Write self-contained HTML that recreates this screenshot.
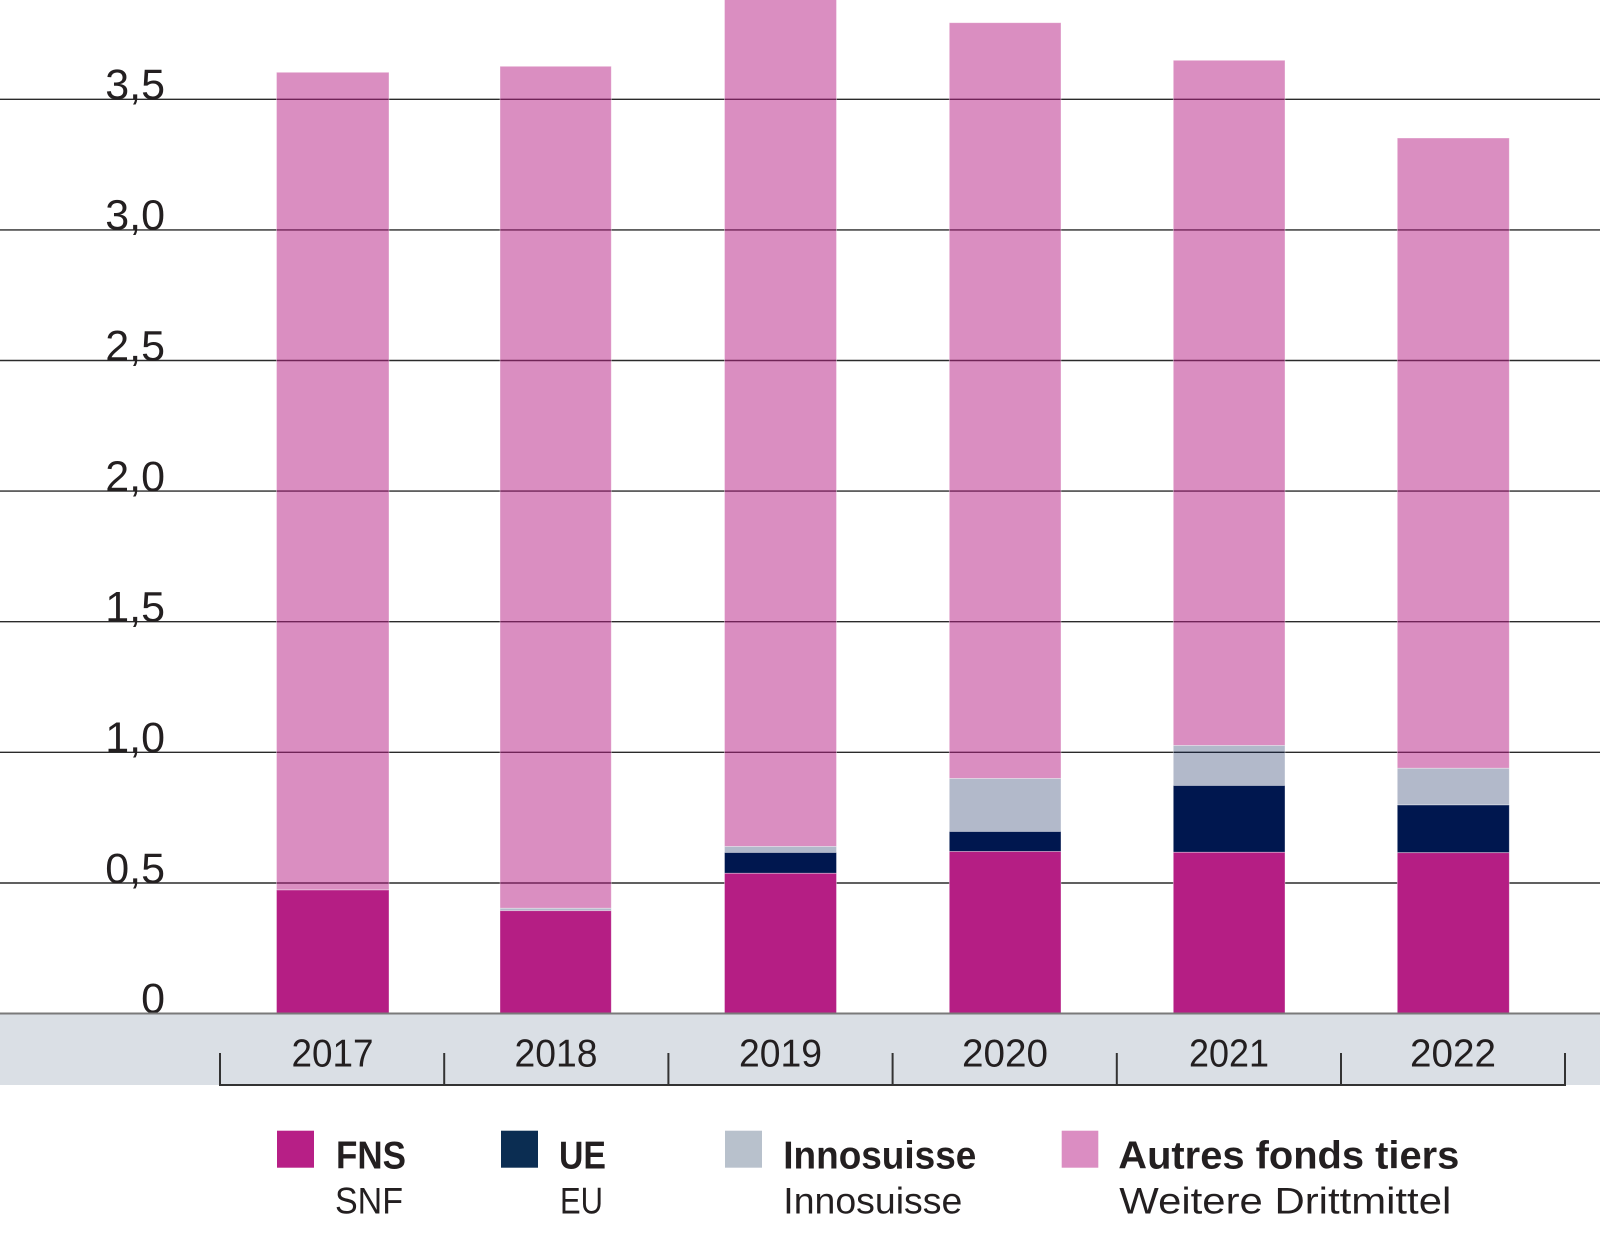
<!DOCTYPE html>
<html>
<head>
<meta charset="utf-8">
<style>
html,body{margin:0;padding:0;background:#fff;}
svg{display:block;}
text{font-family:"Liberation Sans",sans-serif;fill:#231f20;}
</style>
</head>
<body>
<svg width="1600" height="1234" viewBox="0 0 1600 1234" xmlns="http://www.w3.org/2000/svg">
  <rect x="0" y="0" width="1600" height="1234" fill="#ffffff"/>

  <!-- gridlines -->
  <g stroke="#2b2b2b" stroke-width="1.4">
    <line x1="0" y1="883" x2="1600" y2="883"/>
    <line x1="0" y1="752.3" x2="1600" y2="752.3"/>
    <line x1="0" y1="621.7" x2="1600" y2="621.7"/>
    <line x1="0" y1="491.1" x2="1600" y2="491.1"/>
    <line x1="0" y1="360.5" x2="1600" y2="360.5"/>
    <line x1="0" y1="229.9" x2="1600" y2="229.9"/>
    <line x1="0" y1="99.3" x2="1600" y2="99.3"/>
  </g>

  <!-- y labels -->
  <g font-size="43" text-anchor="end">
    <text x="165" y="1013">0</text>
    <text x="165" y="883">0,5</text>
    <text x="165" y="752">1,0</text>
    <text x="165" y="621.5">1,5</text>
    <text x="165" y="491">2,0</text>
    <text x="165" y="360.5">2,5</text>
    <text x="165" y="229.5">3,0</text>
    <text x="165" y="99">3,5</text>
  </g>

  <!-- bars -->
  <g stroke="rgba(255,255,255,0.45)" stroke-width="0.8">
    <!-- 2017 -->
    <rect x="276.5" y="72.3" width="112.5" height="817.7" fill="rgba(181,30,132,0.5)"/>
    <rect x="276.5" y="890" width="112.5" height="123.5" fill="#b51e84"/>
    <!-- 2018 -->
    <rect x="500" y="66.3" width="111.3" height="842" fill="rgba(181,30,132,0.5)"/>
    <rect x="500" y="908.3" width="111.3" height="2.4" fill="rgba(0,23,79,0.3)"/>
    <rect x="500" y="910.7" width="111.3" height="102.8" fill="#b51e84"/>
    <!-- 2019 -->
    <rect x="724.5" y="-2" width="112" height="848.5" fill="rgba(181,30,132,0.5)"/>
    <rect x="724.5" y="846.5" width="112" height="6" fill="rgba(0,23,79,0.3)"/>
    <rect x="724.5" y="852.5" width="112" height="20.8" fill="#00174f"/>
    <rect x="724.5" y="873.3" width="112" height="140.2" fill="#b51e84"/>
    <!-- 2020 -->
    <rect x="949.3" y="22.7" width="111.7" height="755.8" fill="rgba(181,30,132,0.5)"/>
    <rect x="949.3" y="778.5" width="111.7" height="53" fill="rgba(0,23,79,0.3)"/>
    <rect x="949.3" y="831.5" width="111.7" height="20" fill="#00174f"/>
    <rect x="949.3" y="851.5" width="111.7" height="162" fill="#b51e84"/>
    <!-- 2021 -->
    <rect x="1173.3" y="60.3" width="111.7" height="685.2" fill="rgba(181,30,132,0.5)"/>
    <rect x="1173.3" y="745.5" width="111.7" height="40" fill="rgba(0,23,79,0.3)"/>
    <rect x="1173.3" y="785.5" width="111.7" height="66.8" fill="#00174f"/>
    <rect x="1173.3" y="852.3" width="111.7" height="161.2" fill="#b51e84"/>
    <!-- 2022 -->
    <rect x="1397.3" y="138" width="112" height="630.3" fill="rgba(181,30,132,0.5)"/>
    <rect x="1397.3" y="768.3" width="112" height="36.7" fill="rgba(0,23,79,0.3)"/>
    <rect x="1397.3" y="805" width="112" height="47.7" fill="#00174f"/>
    <rect x="1397.3" y="852.7" width="112" height="160.8" fill="#b51e84"/>
  </g>

  <!-- x band -->
  <rect x="0" y="1013.5" width="1600" height="71.5" fill="#dadfe5"/>
  <line x1="0" y1="1013.5" x2="1600" y2="1013.5" stroke="#7a7a7a" stroke-width="2"/>
  <g stroke="#333" stroke-width="2">
    <line x1="219" y1="1085" x2="1566" y2="1085"/>
    <line x1="220" y1="1053" x2="220" y2="1086"/>
    <line x1="444.2" y1="1053" x2="444.2" y2="1086"/>
    <line x1="668.4" y1="1053" x2="668.4" y2="1086"/>
    <line x1="892.6" y1="1053" x2="892.6" y2="1086"/>
    <line x1="1116.8" y1="1053" x2="1116.8" y2="1086"/>
    <line x1="1341" y1="1053" x2="1341" y2="1086"/>
    <line x1="1565" y1="1053" x2="1565" y2="1086"/>
  </g>

  <!-- year labels -->
  <g font-size="39" text-anchor="middle">
    <text x="332.5" y="1066.5" textLength="82" lengthAdjust="spacingAndGlyphs">2017</text>
    <text x="556" y="1066.5" textLength="83" lengthAdjust="spacingAndGlyphs">2018</text>
    <text x="780.5" y="1066.5" textLength="83" lengthAdjust="spacingAndGlyphs">2019</text>
    <text x="1005" y="1066.5" textLength="86" lengthAdjust="spacingAndGlyphs">2020</text>
    <text x="1229" y="1066.5" textLength="80" lengthAdjust="spacingAndGlyphs">2021</text>
    <text x="1453" y="1066.5" textLength="86" lengthAdjust="spacingAndGlyphs">2022</text>
  </g>

  <!-- legend -->
  <rect x="277" y="1130.7" width="37" height="37" fill="#b71f86"/>
  <rect x="501" y="1130.7" width="37" height="37" fill="#0b2d52"/>
  <rect x="725" y="1130.7" width="37" height="37" fill="#b8c1cc"/>
  <rect x="1061.7" y="1130.7" width="36.6" height="37" fill="#db8dc2"/>

  <g font-size="39" font-weight="bold">
    <text x="336" y="1168.3" textLength="70" lengthAdjust="spacingAndGlyphs">FNS</text>
    <text x="559" y="1168.3" textLength="47" lengthAdjust="spacingAndGlyphs">UE</text>
    <text x="783.3" y="1168.3" textLength="193" lengthAdjust="spacingAndGlyphs">Innosuisse</text>
    <text x="1118.3" y="1168.3" textLength="341" lengthAdjust="spacingAndGlyphs">Autres fonds tiers</text>
  </g>
  <g font-size="37">
    <text x="335" y="1213.3" textLength="68" lengthAdjust="spacingAndGlyphs">SNF</text>
    <text x="560" y="1213.3" textLength="43" lengthAdjust="spacingAndGlyphs">EU</text>
    <text x="783.3" y="1213.3" textLength="179" lengthAdjust="spacingAndGlyphs">Innosuisse</text>
    <text x="1119.3" y="1213.3" textLength="332" lengthAdjust="spacingAndGlyphs">Weitere Drittmittel</text>
  </g>
</svg>
</body>
</html>
